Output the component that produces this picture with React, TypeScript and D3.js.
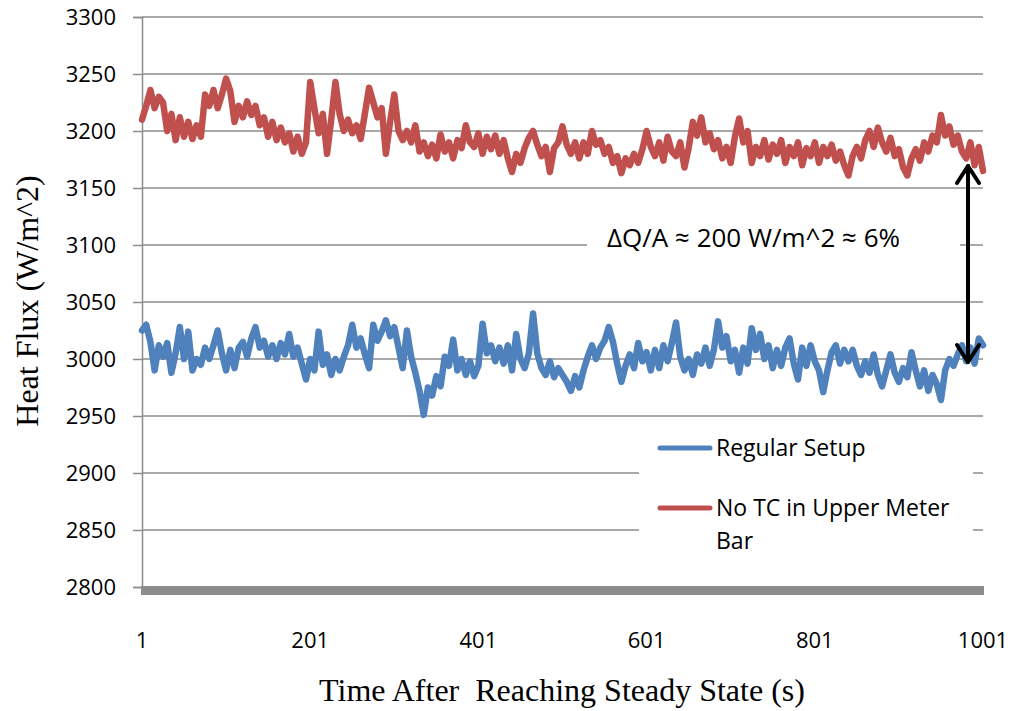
import React, { useRef, useEffect } from "react";
import { select, scaleLinear, line, axisLeft, range } from "d3";

// seconds after steady state, sampled every 5 s
const times = range(1, 1002, 5);

const regularSetup = [
  3025, 3030, 3015, 2990, 3012, 3002, 3014, 2988, 3005, 3028,
  3000, 3024, 2990, 3000, 2995, 3010, 3000, 3012, 3025, 3005,
  2990, 3008, 2992, 3010, 3015, 3002, 3018, 3028, 3010, 3016,
  3002, 3012, 3000, 3014, 3004, 3022, 3002, 3010, 2996, 2982,
  3000, 2990, 3024, 2995, 3004, 2986, 3000, 2990, 3002, 3012,
  3030, 3010, 3018, 3004, 2992, 3030, 3016, 3024, 3034, 3020,
  3028, 3010, 2992, 3025, 3002, 2988, 2972, 2951, 2975, 2968,
  2985, 2976, 3002, 2994, 3017, 2990, 3000, 2986, 2998, 2985,
  2994, 3031, 3005, 3012, 2998, 3010, 2996, 3012, 2990, 3022,
  3000, 2992, 3005, 3040, 3005, 2992, 2986, 2998, 2984, 2992,
  2986, 2980, 2972, 2985, 2975, 2990, 3002, 3012, 3000, 3010,
  3016, 3028, 3015, 2996, 2980, 2994, 3004, 2992, 3014, 2998,
  3006, 2990, 3008, 2992, 3012, 2998, 3014, 3032, 3002, 2990,
  3000, 2986, 3004, 2996, 3010, 2994, 3008, 3033, 3010, 3020,
  2998, 3008, 2988, 3010, 2996, 3027, 3008, 3022, 3000, 3012,
  2992, 3008, 2994, 3010, 3018, 2996, 2982, 3010, 2994, 3012,
  2998, 2990, 2971, 2990, 3006, 3012, 2996, 3008, 2998, 3008,
  2994, 2986, 2998, 2988, 3004, 2986, 2976, 2990, 3004, 2988,
  2980, 2992, 2984, 3006, 2990, 2976, 2990, 2972, 2986, 2978,
  2964, 2990, 3000, 2994, 3004, 3012, 2998, 3010, 2996, 3018,
  3012
];

const noTcUpperBar = [
  3210, 3222, 3236, 3220, 3230, 3225, 3200, 3215, 3192, 3212,
  3195, 3208, 3193, 3205, 3195, 3232, 3222, 3236, 3220, 3232,
  3246, 3235, 3208, 3222, 3212, 3226, 3214, 3222, 3205, 3212,
  3195, 3208, 3192, 3203, 3190, 3198, 3182, 3195, 3180, 3190,
  3243, 3220, 3198, 3215, 3180, 3210, 3243, 3215, 3200, 3210,
  3198, 3205, 3193, 3215, 3238, 3225, 3212, 3220, 3180, 3208,
  3232, 3200, 3192, 3200, 3190, 3205, 3182, 3190, 3178, 3188,
  3176, 3197, 3182, 3190, 3176, 3192, 3185, 3205, 3190, 3186,
  3198, 3180, 3195, 3184, 3196, 3180, 3192, 3176, 3164, 3180,
  3172, 3185, 3194, 3200, 3188, 3178, 3186, 3164, 3185, 3190,
  3204, 3188, 3180, 3190, 3176, 3190, 3180, 3200, 3188, 3192,
  3180, 3186, 3172, 3178, 3163, 3176, 3170, 3180, 3172, 3184,
  3200, 3186, 3178, 3190, 3174, 3195, 3182, 3178, 3190, 3168,
  3185, 3208, 3196, 3212, 3190, 3198, 3184, 3192, 3176, 3186,
  3172, 3195, 3211, 3190, 3200, 3172, 3186, 3178, 3192, 3175,
  3188, 3180, 3192, 3172, 3186, 3178, 3190, 3170, 3185, 3178,
  3190, 3172, 3186, 3178, 3188, 3174, 3182, 3170, 3161, 3178,
  3186, 3176, 3192, 3200, 3186, 3203, 3190, 3182, 3194, 3178,
  3184, 3168, 3161, 3176, 3184, 3174, 3190, 3182, 3196, 3190,
  3214, 3196, 3204, 3188, 3196, 3182, 3176, 3190, 3170, 3186,
  3165
];

const yTicks = [2800, 2850, 2900, 2950, 3000, 3050, 3100, 3150, 3200, 3250, 3300];
const xTicks = [1, 201, 401, 601, 801, 1001];

const series = [
  { name: "Regular Setup", values: regularSetup, color: "#4F81BD" },
  { name: "No TC in Upper Meter Bar", values: noTcUpperBar, color: "#C0504D" },
];

const W = 1012;
const H = 711;
const margin = { left: 142, right: 29, top: 17, bottom: 124 };

const App = () => {
  const svgRef = useRef(null);

  useEffect(() => {
    const svg = select(svgRef.current);
    svg.selectAll("*").remove();

    const x = scaleLinear().domain([1, 1001]).range([margin.left, W - margin.right]);
    const y = scaleLinear().domain([2800, 3300]).range([H - margin.bottom, margin.top]);

    // gridlines
    svg.append("g")
      .selectAll("line")
      .data(yTicks.filter(d => d > 2800))
      .enter().append("line")
      .attr("x1", x(1)).attr("x2", x(1001))
      .attr("y1", d => y(d)).attr("y2", d => y(d))
      .attr("stroke", "#8c8c8c").attr("stroke-width", 1.5);

    // y axis
    const yAxis = axisLeft(y).tickValues(yTicks).tickSize(9).tickPadding(17).tickFormat(d => String(d));
    const gy = svg.append("g").attr("transform", `translate(${x(1)},0)`).call(yAxis);
    gy.select(".domain").attr("stroke", "#8c8c8c").attr("stroke-width", 1.5);
    gy.selectAll(".tick line").attr("stroke", "#8c8c8c").attr("stroke-width", 1.5);
    gy.selectAll(".tick text")
      .attr("font-family", "Open Sans").attr("font-size", 22).attr("fill", "#000");

    // x axis (thick baseline)
    svg.append("rect")
      .attr("x", x(1) - 1).attr("y", y(2800) - 1)
      .attr("width", x(1001) - x(1) + 2).attr("height", 9)
      .attr("fill", "#8c8c8c");

    svg.append("g")
      .selectAll("text")
      .data(xTicks)
      .enter().append("text")
      .attr("x", d => x(d)).attr("y", 648)
      .attr("text-anchor", "middle")
      .attr("font-family", "Open Sans").attr("font-size", 22)
      .text(d => d);

    // series
    const lineGen = line()
      .x((d, i) => x(times[i]))
      .y(d => y(d));

    series.forEach(s => {
      svg.append("path")
        .datum(s.values)
        .attr("fill", "none")
        .attr("stroke", s.color)
        .attr("stroke-width", 6.5)
        .attr("stroke-linejoin", "round")
        .attr("stroke-linecap", "round")
        .attr("d", lineGen);
    });

    // annotation
    svg.append("rect")
      .attr("x", 587).attr("y", 222).attr("width", 373).attr("height", 42)
      .attr("fill", "#fff");
    svg.append("text")
      .attr("x", 607).attr("y", 247)
      .attr("font-family", "Open Sans").attr("font-size", 26)
      .text("ΔQ/A ≈ 200 W/m^2 ≈ 6%");

    // double arrow between the two series
    const ax = 968;
    const aTop = 166;
    const aBot = 362;
    const arrow = svg.append("g")
      .attr("stroke", "#000").attr("stroke-width", 4)
      .attr("fill", "none").attr("stroke-linecap", "round").attr("stroke-linejoin", "round");
    arrow.append("line").attr("x1", ax).attr("x2", ax).attr("y1", aTop).attr("y2", aBot);
    arrow.append("polyline").attr("points", `${ax - 11},${aTop + 17} ${ax},${aTop} ${ax + 11},${aTop + 17}`);
    arrow.append("polyline").attr("points", `${ax - 11},${aBot - 17} ${ax},${aBot} ${ax + 11},${aBot - 17}`);

    // legend
    svg.append("rect")
      .attr("x", 639).attr("y", 425).attr("width", 334).attr("height", 135)
      .attr("fill", "#fff");
    const legendY = [448, 508];
    series.forEach((s, i) => {
      svg.append("line")
        .attr("x1", 660).attr("x2", 710)
        .attr("y1", legendY[i]).attr("y2", legendY[i])
        .attr("stroke", s.color).attr("stroke-width", 5).attr("stroke-linecap", "round");
    });
    svg.append("text")
      .attr("x", 716).attr("y", 456)
      .attr("font-family", "Open Sans").attr("font-size", 23)
      .text("Regular Setup");
    const t2 = svg.append("text")
      .attr("font-family", "Open Sans").attr("font-size", 23);
    t2.append("tspan").attr("x", 716).attr("y", 516).text("No TC in Upper Meter");
    t2.append("tspan").attr("x", 716).attr("y", 549).text("Bar");

    // axis titles
    svg.append("text")
      .attr("x", 562).attr("y", 701)
      .attr("text-anchor", "middle")
      .attr("font-family", "Liberation Serif").attr("font-size", 32)
      .style("white-space", "pre")
      .text("Time After  Reaching Steady State (s)");

    svg.append("text")
      .attr("transform", `translate(38,${301}) rotate(-90)`)
      .attr("text-anchor", "middle")
      .attr("font-family", "Liberation Serif").attr("font-size", 32)
      .text("Heat Flux (W/m^2)");
  }, []);

  return (
    <svg
      ref={svgRef}
      width={W}
      height={H}
      style={{ position: "absolute", left: 0, top: 0, background: "#fff" }}
    />
  );
};

export default App;
